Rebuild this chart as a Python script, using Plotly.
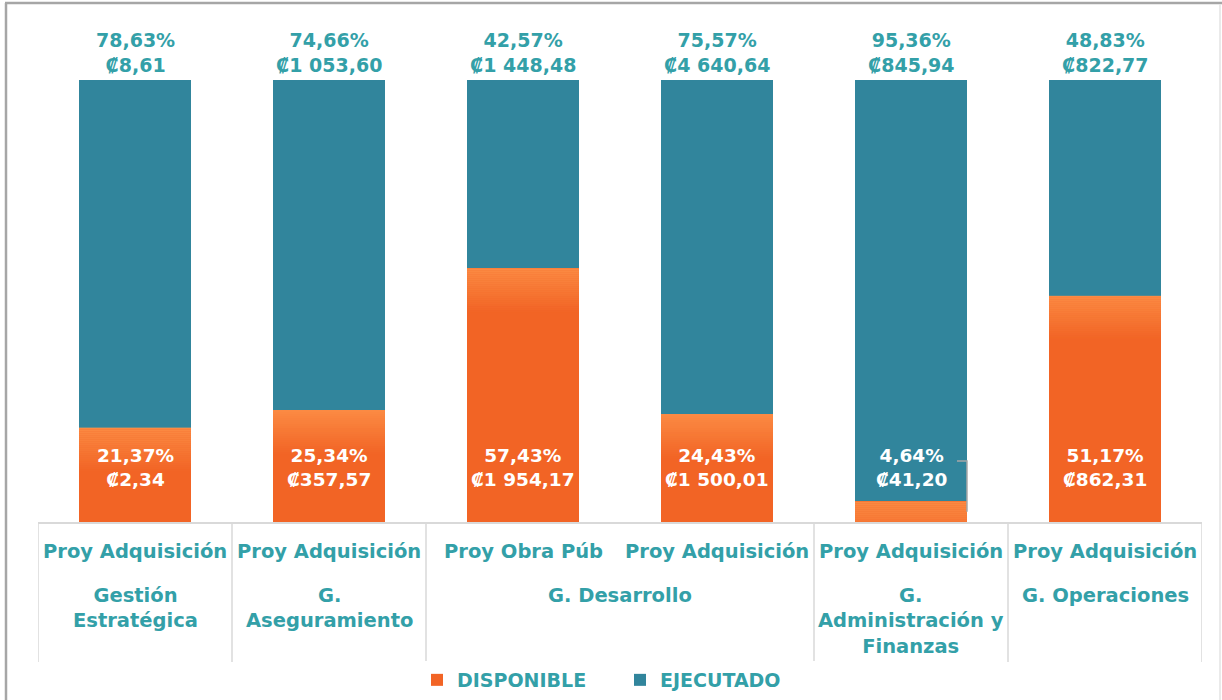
import plotly.graph_objects as go

# ---------------- data ----------------
categories = ["Proy Adquisición", "Proy Adquisición", "Proy Obra Púb",
              "Proy Adquisición", "Proy Adquisición", "Proy Adquisición"]
group_labels = ["Gestión<br>Estratégica", "G.<br>Aseguramiento", "G. Desarrollo",
                "G.<br>Administración y<br>Finanzas", "G. Operaciones"]
group_spans = [1, 1, 2, 1, 1]

disponible_pct = [21.37, 25.34, 57.43, 24.43, 4.64, 51.17]
ejecutado_pct = [78.63, 74.66, 42.57, 75.57, 95.36, 48.83]
disponible_amt = ["₡2,34", "₡357,57", "₡1 954,17", "₡1 500,01", "₡41,20", "₡862,31"]
ejecutado_amt = ["₡8,61", "₡1 053,60", "₡1 448,48", "₡4 640,64", "₡845,94", "₡822,77"]

# ---------------- style ----------------
W, H = 1222, 700
ML, MR, MT, MB = 38, 20, 80, 178
PW, PH = W - ML - MR, H - MT - MB
ORANGE = "#F26425"
LIGHT_ORANGE = "#FF9A50"
BLUE = "#31859C"
TEAL_TXT = "#33A0A8"
FONT = "DejaVu Sans"
FS = 19
BARW = 0.577

def fmt(v):
    return f"{v:.2f}".replace(".", ",") + "%"

def px_x(px):  # absolute pixel -> paper x
    return (px - ML) / PW

def px_y(py):  # absolute pixel -> paper y
    return (H - MB - py) / PH

x = list(range(len(categories)))

fig = go.Figure()
fig.add_trace(go.Bar(x=x, y=disponible_pct, name="DISPONIBLE",
                     marker=dict(color=ORANGE, line=dict(width=0)), width=BARW))
fig.add_trace(go.Bar(x=x, y=ejecutado_pct, name="EJECUTADO",
                     marker=dict(color=BLUE, line=dict(width=0)), width=BARW))

ann = []
for i in x:
    # top (ejecutado) labels
    ann.append(dict(x=i, y=100, xref="x", yref="y", yanchor="bottom",
                    text=f"{fmt(ejecutado_pct[i])}<br>{ejecutado_amt[i]}",
                    showarrow=False, yshift=2,
                    font=dict(family=FONT, size=FS, color=TEAL_TXT, weight="bold")))
    # inner (disponible) labels
    ann.append(dict(x=i, y=0, xref="x", yref="y", yanchor="bottom",
                    text=f"{fmt(disponible_pct[i])}<br>{disponible_amt[i]}",
                    showarrow=False, yshift=30,
                    font=dict(family=FONT, size=FS - 0.5, color="white", weight="bold")))
    # category labels (level 1)
    ann.append(dict(x=i, y=0, xref="x", yref="paper", yanchor="middle",
                    text=categories[i], showarrow=False, yshift=-29,
                    font=dict(family=FONT, size=FS + 0.5, color=TEAL_TXT, weight="bold")))

# group labels (level 2)
start = 0
boundaries = [-0.5]
for lab, span in zip(group_labels, group_spans):
    cx = start + (span - 1) / 2
    ann.append(dict(x=cx, y=0, xref="x", yref="paper", yanchor="top",
                    text=lab, showarrow=False, yshift=-60,
                    font=dict(family=FONT, size=FS + 0.5, color=TEAL_TXT, weight="bold")))
    start += span
    boundaries.append(start - 0.5)

shapes = []
sep_bottom = px_y(662)
for b in boundaries:
    shapes.append(dict(type="line", xref="x", yref="paper", x0=b, x1=b,
                       y0=0, y1=sep_bottom, line=dict(color="#D9D9D9", width=1.5)))

# soft light gradient at the top of the orange segments
band_px, n_bands = 2, 22
band = band_px / PH * 100
for i in x:
    top = disponible_pct[i]
    for b in range(n_bands):
        y1 = top - b * band
        y0 = max(0, y1 - band)
        if y1 <= 0:
            break
        shapes.append(dict(type="rect", xref="x", yref="y",
                           x0=i - BARW / 2, x1=i + BARW / 2, y0=y0, y1=y1,
                           fillcolor=LIGHT_ORANGE, opacity=0.7 * (1 - b / n_bands),
                           line=dict(width=0), layer="above"))

# leader line for the small disponible segment (bar 5)
k = 4
xr = k + BARW / 2
y_lbl = (H - MB - 461) / PH * 100
shapes.append(dict(type="path", xref="x", yref="y",
                   path=f"M {xr} {disponible_pct[k]/2} L {xr} {y_lbl} L {k + 0.237} {y_lbl}",
                   line=dict(color="#A6A6A6", width=1.5)))

# outer frame (left/top darker, right light)
shapes.append(dict(type="line", xref="paper", yref="paper",
                   x0=px_x(6), x1=px_x(6), y0=px_y(704), y1=px_y(3),
                   line=dict(color="#A6A6A6", width=2.5), layer="below"))
shapes.append(dict(type="line", xref="paper", yref="paper",
                   x0=px_x(5), x1=px_x(1222), y0=px_y(3), y1=px_y(3),
                   line=dict(color="#A6A6A6", width=2.5), layer="below"))
shapes.append(dict(type="line", xref="paper", yref="paper",
                   x0=px_x(1220), x1=px_x(1220), y0=px_y(704), y1=px_y(4),
                   line=dict(color="#E3E3E3", width=1.5), layer="below"))

fig.update_layout(
    width=W, height=H,
    margin=dict(l=ML, r=MR, t=MT, b=MB),
    barmode="stack", bargap=1 - BARW,
    plot_bgcolor="white", paper_bgcolor="white",
    xaxis=dict(range=[-0.5, len(categories) - 0.5], showticklabels=False,
               showgrid=False, zeroline=False, showline=True,
               linecolor="#D9D9D9", linewidth=1.5, ticks=""),
    yaxis=dict(range=[0, 100], visible=False, showgrid=False, zeroline=False),
    showlegend=True,
    legend=dict(orientation="h", x=0.5, xanchor="center",
                yref="container", y=1 - 680 / H, yanchor="middle",
                traceorder="normal", itemclick=False,
                font=dict(family=FONT, size=FS, color=TEAL_TXT, weight="bold"),
                itemwidth=30, entrywidth=158),
    annotations=ann, shapes=shapes,
)

fig.write_html("out.html", config={"displayModeBar": False},
               post_script="document.body.style.margin='0';document.body.style.overflow='hidden';")
